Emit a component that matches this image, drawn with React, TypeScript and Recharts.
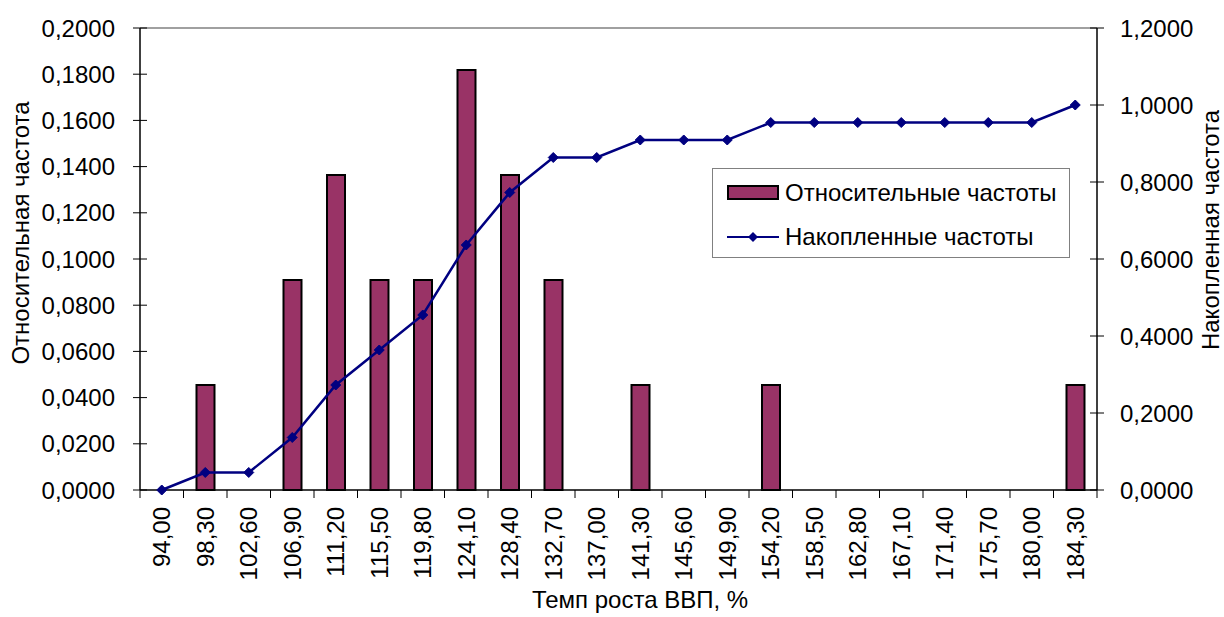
import React from "react";
import {
  Bar,
  ComposedChart,
  Legend,
  Line,
  ReferenceLine,
  XAxis,
  YAxis,
} from "recharts";

const categories = [
  "94,00", "98,30", "102,60", "106,90", "111,20", "115,50", "119,80", "124,10",
  "128,40", "132,70", "137,00", "141,30", "145,60", "149,90", "154,20", "158,50",
  "162,80", "167,10", "171,40", "175,70", "180,00", "184,30",
];
const relFreq = [
  0, 0.0455, 0, 0.0909, 0.1364, 0.0909, 0.0909, 0.1818, 0.1364, 0.0909, 0,
  0.0455, 0, 0, 0.0455, 0, 0, 0, 0, 0, 0, 0.0455,
];
const cumFreq = [
  0, 0.0455, 0.0455, 0.1364, 0.2727, 0.3636, 0.4545, 0.6364, 0.7727, 0.8636,
  0.8636, 0.9091, 0.9091, 0.9091, 0.9545, 0.9545, 0.9545, 0.9545, 0.9545,
  0.9545, 0.9545, 1.0,
];
const leftTicks = [0, 0.02, 0.04, 0.06, 0.08, 0.1, 0.12, 0.14, 0.16, 0.18, 0.2];
const rightTicks = [0, 0.2, 0.4, 0.6, 0.8, 1.0, 1.2];

const data = categories.map((c, i) => ({ cat: c, rel: relFreq[i], cum: cumFreq[i] }));

const W = 1224;
const H = 617;
const LEFT_W = 140;
const RIGHT_W = 127;
const X_H = 127;
const TOP = 28;
const PLOT_W = W - LEFT_W - RIGHT_W;
const FONT = "'Liberation Sans', Arial, sans-serif";
const FS = 24;
const BAR = "#993366";
const LINE = "#000080";

const fmt = (v: number) => v.toFixed(4).replace(".", ",");

const LeftTick = ({ x, y, payload }: any) => (
  <g>
    <line x1={x - 7} x2={x + 7} y1={y} y2={y} stroke="#000" strokeWidth={1} />
    <text x={x - 25} y={y} dy="0.36em" textAnchor="end" fontSize={FS} fontFamily={FONT} fill="#000">
      {fmt(payload.value)}
    </text>
  </g>
);

const RightTick = ({ x, y, payload }: any) => (
  <g>
    <line x1={x - 7} x2={x + 7} y1={y} y2={y} stroke="#000" strokeWidth={1} />
    <text x={x + 23} y={y} dy="0.36em" textAnchor="start" fontSize={FS} fontFamily={FONT} fill="#000">
      {fmt(payload.value)}
    </text>
  </g>
);

const XTick = ({ x, y, payload, index }: any) => {
  const band = PLOT_W / categories.length;
  return (
    <g>
      <line x1={x - band / 2} x2={x - band / 2} y1={y} y2={y + 8} stroke="#000" strokeWidth={1} />
      {index === categories.length - 1 && (
        <line x1={x + band / 2} x2={x + band / 2} y1={y} y2={y + 8} stroke="#000" strokeWidth={1} />
      )}
      <text
        transform={`translate(${x},${y + 17}) rotate(-90)`}
        textAnchor="end"
        dy="0.36em"
        fontSize={FS}
        fontFamily={FONT}
        fill="#000"
      >
        {payload.value}
      </text>
    </g>
  );
};

const Diamond = ({ cx, cy }: any) => {
  if (cx == null || cy == null) return null;
  const r = 5;
  return (
    <polygon
      points={`${cx},${cy - r} ${cx + r},${cy} ${cx},${cy + r} ${cx - r},${cy}`}
      fill={LINE}
      stroke={LINE}
    />
  );
};

const renderLegend = () => (
  <div
    style={{
      width: 356,
      height: 88,
      border: "1px solid #808080",
      background: "#fff",
      fontFamily: FONT,
      fontSize: FS,
      color: "#000",
      position: "relative",
      textAlign: "left",
    }}
  >
    <div style={{ position: "absolute", left: 14, top: 11, display: "flex", alignItems: "center", whiteSpace: "nowrap" }}>
      <svg width={52} height={16}>
        <rect x={1} y={1} width={50} height={13} fill={BAR} stroke="#000" strokeWidth={2} />
      </svg>
      <span style={{ marginLeft: 6, lineHeight: "26px" }}>Относительные частоты</span>
    </div>
    <div style={{ position: "absolute", left: 14, top: 55, display: "flex", alignItems: "center", whiteSpace: "nowrap" }}>
      <svg width={52} height={16}>
        <line x1={0} x2={52} y1={8} y2={8} stroke={LINE} strokeWidth={2} />
        <polygon points="26,3 31,8 26,13 21,8" fill={LINE} />
      </svg>
      <span style={{ marginLeft: 6, lineHeight: "26px" }}>Накопленные частоты</span>
    </div>
  </div>
);

export default function App() {
  return (
    <div style={{ position: "absolute", left: 0, top: 0, width: W, height: H, background: "#fff" }}>
      <ComposedChart width={W} height={H} data={data} margin={{ top: TOP, right: 0, bottom: 0, left: 0 }}>
        <XAxis
          dataKey="cat"
          height={X_H}
          interval={0}
          tickSize={0}
          tickMargin={0}
          tick={<XTick />}
          axisLine={{ stroke: "#000", strokeWidth: 1.5 }}
          tickLine={false}
          label={{
            content: () => (
              <text x={640} y={608} textAnchor="middle" fontSize={FS} fontFamily={FONT} fill="#000">
                Темп роста ВВП, %
              </text>
            ),
          }}
        />
        <YAxis
          yAxisId="left"
          width={LEFT_W}
          domain={[0, 0.2]}
          ticks={leftTicks}
          interval={0}
          tickSize={0}
          tickMargin={0}
          tick={<LeftTick />}
          tickLine={false}
          axisLine={{ stroke: "#000", strokeWidth: 1.5 }}
          label={{
            content: () => (
              <text
                transform="translate(20,233) rotate(-90)"
                textAnchor="middle"
                dy="0.36em"
                fontSize={FS}
                fontFamily={FONT}
                fill="#000"
              >
                Относительная частота
              </text>
            ),
          }}
        />
        <YAxis
          yAxisId="right"
          orientation="right"
          width={RIGHT_W}
          domain={[0, 1.2]}
          ticks={rightTicks}
          interval={0}
          tickSize={0}
          tickMargin={0}
          tick={<RightTick />}
          tickLine={false}
          axisLine={{ stroke: "#000", strokeWidth: 1.5 }}
          label={{
            content: () => (
              <text
                transform="translate(1210,230) rotate(-90)"
                textAnchor="middle"
                dy="0.36em"
                fontSize={FS}
                fontFamily={FONT}
                fill="#000"
              >
                Накопленная частота
              </text>
            ),
          }}
        />
        <ReferenceLine yAxisId="left" y={0.2} stroke="#808080" strokeWidth={1.5} />
        <Bar
          yAxisId="left"
          dataKey="rel"
          name="Относительные частоты"
          barSize={18}
          fill={BAR}
          stroke="#000"
          strokeWidth={2}
          isAnimationActive={false}
        />
        <Line
          yAxisId="right"
          dataKey="cum"
          name="Накопленные частоты"
          type="linear"
          stroke={LINE}
          strokeWidth={2.5}
          dot={<Diamond />}
          activeDot={false}
          isAnimationActive={false}
        />
        <Legend
          layout="horizontal"
          verticalAlign="middle"
          align="center"
          content={renderLegend}
          wrapperStyle={{ position: "absolute", left: 712, top: 168, width: 358, height: 90, right: "auto", bottom: "auto" }}
        />
      </ComposedChart>
    </div>
  );
}
